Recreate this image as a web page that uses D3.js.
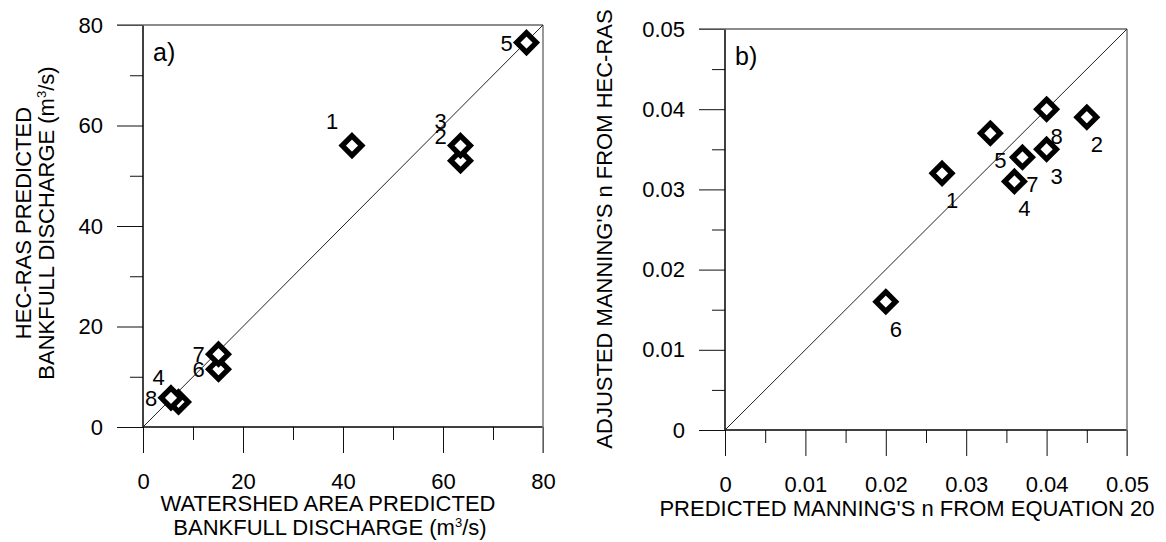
<!DOCTYPE html>
<html lang="en">
<head>
<meta charset="UTF-8">
<title>Bankfull discharge and Manning's n</title>
<style>
  * { margin: 0; padding: 0; }
  body { background: #fff; }
  svg text { font-family: "Liberation Sans", Arial, sans-serif; fill: #000; }
</style>
</head>
<body>
<div id="chart"></div>
<script src="https://cdn.jsdelivr.net/npm/d3@7"></script>
<script>
// panel a) bankfull discharge, m3/s
var siteIdsA = [1, 2, 3, 4, 5, 6, 7, 8];
var qWatershed = [41.8, 63.5, 63.5, 7.1, 76.7, 15.1, 15.1, 5.6];
var qHecRas = [56, 53, 56, 5.0, 76.5, 11.5, 14.5, 5.8];
var ticksA = [0, 20, 40, 60, 80];
var minorTicksA = [10, 30, 50, 70];
var tickLabelsA = ["0", "20", "40", "60", "80"];

// panel b) manning's n
var siteIdsB = [1, 2, 3, 4, 5, 6, 7, 8];
var nPredicted = [0.027, 0.045, 0.040, 0.036, 0.033, 0.020, 0.037, 0.040];
var nAdjusted = [0.032, 0.039, 0.035, 0.031, 0.037, 0.016, 0.034, 0.040];
var ticksB = [0, 0.01, 0.02, 0.03, 0.04, 0.05];
var minorTicksB = [0.005, 0.015, 0.025, 0.035, 0.045];
var tickLabelsB = ["0", "0.01", "0.02", "0.03", "0.04", "0.05"];

var W = 1166, H = 542;
var FS = 22;
var svg = d3.select("#chart").append("svg")
  .attr("width", W).attr("height", H);

// label placement around each marker ("ul" = up-left, "l" = left, "dr" = down-right)
var placeA = ["ul", "ul", "ul", "ul", "l", "l", "l", "l"];
var offsets = { ul: [-20, -25], l: [-20, 0], dr: [10, 27] };

function panel(opt) {
  var x = d3.scaleLinear().domain(opt.domain).range([opt.left, opt.right]);
  var y = d3.scaleLinear().domain(opt.domain).range([opt.bottom, opt.top]);
  var g = svg.append("g");

  // ticks
  var fmt = function (d, i) { return opt.labels[i]; };
  g.append("g").attr("transform", "translate(0," + opt.bottom + ")")
    .call(d3.axisBottom(x).tickValues(opt.ticks).tickSize(26).tickPadding(20).tickFormat(fmt));
  g.append("g").attr("transform", "translate(0," + opt.bottom + ")")
    .call(d3.axisBottom(x).tickValues(opt.minor).tickSize(13).tickFormat(""));
  g.append("g").attr("transform", "translate(" + opt.left + ",0)")
    .call(d3.axisLeft(y).tickValues(opt.ticks).tickSize(26).tickPadding(14).tickFormat(fmt));
  g.append("g").attr("transform", "translate(" + opt.left + ",0)")
    .call(d3.axisLeft(y).tickValues(opt.minor).tickSize(13).tickFormat(""));
  g.selectAll(".domain").remove();
  g.selectAll(".tick line").attr("stroke", "#111");
  g.selectAll(".tick text").attr("font-size", FS)
    .style("font-family", "'Liberation Sans', Arial, sans-serif");

  // frame: left/bottom black, top/right grey
  g.append("line").attr("x1", opt.left).attr("x2", opt.left)
    .attr("y1", opt.top).attr("y2", opt.bottom).attr("stroke", "#000").attr("stroke-width", 1.5);
  g.append("line").attr("x1", opt.left).attr("x2", opt.right)
    .attr("y1", opt.bottom).attr("y2", opt.bottom).attr("stroke", "#000").attr("stroke-width", 1.5);
  g.append("line").attr("x1", opt.left - 26).attr("x2", opt.right)
    .attr("y1", opt.top).attr("y2", opt.top).attr("stroke", "#666").attr("stroke-width", 1.5);
  g.append("line").attr("x1", opt.right).attr("x2", opt.right)
    .attr("y1", opt.top).attr("y2", opt.bottom + 26).attr("stroke", "#777").attr("stroke-width", 1.5);

  // 1:1 line
  g.append("line")
    .attr("x1", x(opt.domain[0])).attr("y1", y(opt.domain[0]))
    .attr("x2", x(opt.domain[1])).attr("y2", y(opt.domain[1]))
    .attr("stroke", "#222").attr("stroke-width", 1);

  // markers
  var pts = opt.xs.map(function (v, i) {
    return { id: opt.ids[i], x: x(v), y: y(opt.ys[i]), pos: opt.place[i] };
  });
  var r = 9.8;
  g.selectAll("path.pt").data(pts).enter().append("path")
    .attr("class", "pt")
    .attr("d", function (d) {
      return "M" + d.x + "," + (d.y - r) + "L" + (d.x + r) + "," + d.y +
        "L" + d.x + "," + (d.y + r) + "L" + (d.x - r) + "," + d.y + "Z";
    })
    .attr("fill", "#fff").attr("stroke", "#000").attr("stroke-width", 5.3)
    .attr("stroke-linejoin", "miter");

  g.selectAll("text.lab").data(pts).enter().append("text")
    .attr("class", "lab")
    .attr("x", function (d) { return d.x + offsets[d.pos][0]; })
    .attr("y", function (d) { return d.y + offsets[d.pos][1]; })
    .attr("dy", "0.36em").attr("text-anchor", "middle")
    .attr("font-size", FS)
    .text(function (d) { return d.id; });

  g.append("text").attr("x", opt.left + 10).attr("y", opt.top + 36)
    .attr("font-size", 25).text(opt.tag);

  return { g: g, x: x, y: y };
}

var pa = panel({
  left: 143, right: 543, top: 25, bottom: 427,
  domain: [0, 80], ticks: ticksA, minor: minorTicksA, labels: tickLabelsA,
  ids: siteIdsA, xs: qWatershed, ys: qHecRas, place: placeA, tag: "a)"
});
var pb = panel({
  left: 725, right: 1127, top: 29, bottom: 430,
  domain: [0, 0.05], ticks: ticksB, minor: minorTicksB, labels: tickLabelsB,
  ids: siteIdsB, xs: nPredicted, ys: nAdjusted, place: siteIdsB.map(function () { return "dr"; }), tag: "b)"
});

// axis titles
function unitLine(sel, prefix) {
  sel.append("tspan").text(prefix + "(m");
  sel.append("tspan").attr("font-size", 13).attr("dy", -8).text("3");
  sel.append("tspan").attr("dy", 8).text("/s)");
}

svg.append("text").attr("x", 328).attr("y", 511)
  .attr("text-anchor", "middle").attr("font-size", FS)
  .text("WATERSHED AREA PREDICTED");
unitLine(svg.append("text").attr("x", 330).attr("y", 535)
  .attr("text-anchor", "middle").attr("font-size", FS), "BANKFULL DISCHARGE ");

var ya = svg.append("g").attr("transform", "translate(0,223) rotate(-90)");
ya.append("text").attr("x", 0).attr("y", 31)
  .attr("text-anchor", "middle").attr("font-size", FS)
  .text("HEC-RAS PREDICTED");
unitLine(ya.append("text").attr("x", 0).attr("y", 54)
  .attr("text-anchor", "middle").attr("font-size", FS), "BANKFULL DISCHARGE ");

svg.append("text").attr("x", 907).attr("y", 516)
  .attr("text-anchor", "middle").attr("font-size", FS)
  .text("PREDICTED MANNING'S n FROM EQUATION 20");

svg.append("g").attr("transform", "translate(0,229) rotate(-90)")
  .append("text").attr("x", 0).attr("y", 612)
  .attr("text-anchor", "middle").attr("font-size", FS)
  .text("ADJUSTED MANNING'S n FROM HEC-RAS");
</script>
</body>
</html>
